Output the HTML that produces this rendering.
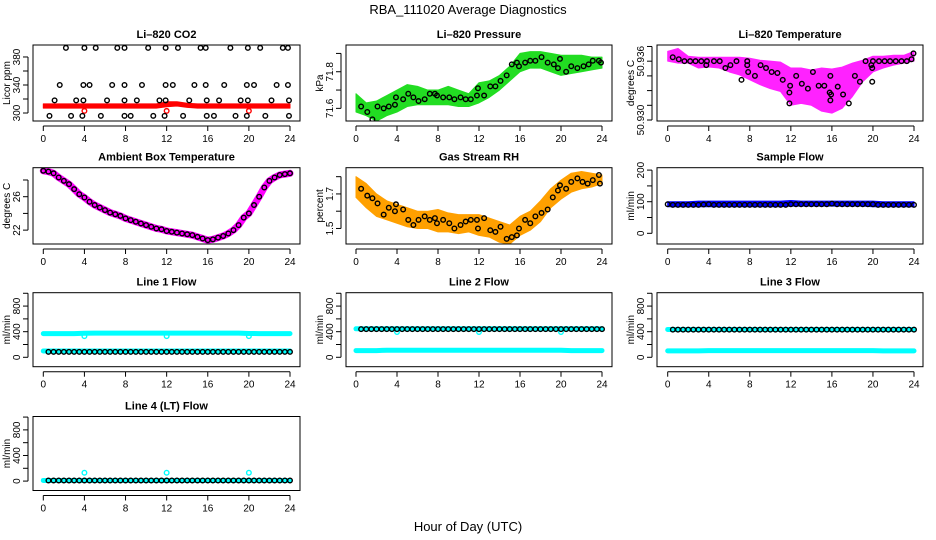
<!DOCTYPE html>
<html><head><meta charset="utf-8">
<style>
html,body{margin:0;padding:0;background:#fff;}
svg{display:block;font-family:"Liberation Sans",Arial,sans-serif;}
</style></head>
<body>
<svg id="chart" width="936" height="540" viewBox="0 0 936 540" xmlns="http://www.w3.org/2000/svg">
<rect width="936" height="540" fill="#fff"/>
<text x="468" y="14" font-size="13" text-anchor="middle">RBA_111020  Average Diagnostics</text>
<text x="468" y="531" font-size="13" text-anchor="middle">Hour of Day (UTC)</text>
</svg>
<script>
// ---------- data ----------
const xTicks = [0,4,8,12,16,20,24];
// CO2
const co2PtHours = [2.2,4.0,5.1,7.2,7.9,10.2,11.9,13.1,15.3,15.8,18.2,19.9,21.1,23.3,23.8,
 1.6,3.9,4.5,6.7,7.9,9.6,11.9,12.6,14.7,15.8,17.6,19.8,20.5,22.7,23.8,
 1.1,3.2,3.9,6.2,7.9,9.1,11.3,11.9,14.2,15.9,17.1,19.2,19.9,22.2,23.9,
 0.6,2.7,3.8,5.6,7.9,8.5,10.7,11.8,13.6,15.9,16.6,18.7,19.8,21.6,23.9];
const co2PtValues = [393,393,393,393,393,393,393,393,393,393,393,393,393,393,393,
 340,340,340,340,340,340,340,340,340,340,340,340,340,340,340,
 318,318,318,318,318,318,318,318,318,318,318,318,318,318,318,
 296,296,296,296,296,296,296,296,296,296,296,296,296,296,296];
const bandHours = [0,1,2,3,4,5,6,7,8,9,10,11,12,13,14,15,16,17,18,19,20,21,22,23,24];
const co2RedLo = [307,307,307,307,307,307,307,307,307,307,307,307,309,310,308,307,307,307,307,307,307,307,307,307,307];
const co2RedHi = [313,313,313,313,313,313,313,313,313,313,313,313,316,316,314,313,313,313,313,313,313,313,313,313,313];
const co2DipHours = [4,12,20];
const co2DipValues = [303,303,303];
// Pressure
const presHours = [0.5,1.1,1.6,2.1,2.7,3.2,3.8,3.9,4.6,5.1,5.6,6.1,6.7,7.2,7.7,7.9,8.5,9.1,9.6,10.2,10.7,11.2,11.8,11.9,12.5,13.1,13.6,14.1,14.7,15.2,15.7,15.9,16.5,17.0,17.5,18.1,18.7,19.3,19.7,19.9,20.5,21.0,21.6,22.2,22.7,23.1,23.7,23.9];
const presValues = [71.61,71.58,71.54,71.61,71.60,71.61,71.62,71.66,71.65,71.68,71.66,71.64,71.65,71.68,71.68,71.67,71.66,71.66,71.65,71.66,71.65,71.65,71.67,71.71,71.67,71.72,71.72,71.75,71.78,71.84,71.85,71.83,71.85,71.86,71.86,71.88,71.85,71.84,71.82,71.87,71.80,71.83,71.82,71.83,71.84,71.86,71.86,71.85];
const presLo = [71.58,71.56,71.53,71.56,71.58,71.61,71.62,71.62,71.62,71.62,71.61,71.61,71.63,71.66,71.70,71.75,71.80,71.82,71.82,71.80,71.78,71.79,71.80,71.81,71.82];
const presHi = [71.68,71.63,71.64,71.67,71.70,71.73,71.72,71.70,71.70,71.72,71.70,71.68,71.74,71.75,71.78,71.83,71.90,71.91,71.91,71.90,71.89,71.89,71.89,71.88,71.88];
// Li-820 temperature
const tempHours = [0.49,1.08,1.63,2.19,2.71,3.27,3.82,3.76,4.51,5.07,5.62,6.11,6.7,7.19,7.75,7.75,7.84,8.5,9.05,9.58,10.13,10.69,11.21,11.93,11.86,11.86,12.52,13.07,13.66,14.15,14.71,15.26,15.78,15.92,15.85,15.85,16.57,17.09,17.65,18.24,18.73,19.28,19.84,19.93,19.93,20.0,20.59,21.14,21.67,22.22,22.78,23.3,23.76,23.95];
const tempValues = [50.9364,50.9362,50.9360,50.9360,50.9360,50.9360,50.9360,50.9356,50.9360,50.9360,50.9353,50.9356,50.9360,50.9341,50.9360,50.9356,50.9349,50.9345,50.9356,50.9353,50.9349,50.9348,50.9341,50.9335,50.9328,50.9317,50.9345,50.9337,50.9332,50.9349,50.9335,50.9335,50.9328,50.9326,50.9345,50.9320,50.9334,50.9326,50.9317,50.9345,50.9339,50.9360,50.9356,50.9353,50.9339,50.9360,50.9360,50.9360,50.9360,50.9360,50.9360,50.9360,50.9362,50.9368];
const tempLo = [50.9360,50.9358,50.9358,50.9353,50.9354,50.9353,50.9349,50.9346,50.9341,50.9336,50.9332,50.9329,50.9315,50.9317,50.9315,50.9309,50.9307,50.9312,50.9324,50.9339,50.9349,50.9353,50.9356,50.9358,50.9360];
const tempHi = [50.9370,50.9373,50.9365,50.9364,50.9364,50.9364,50.9364,50.9364,50.9363,50.9361,50.9360,50.9359,50.9353,50.9353,50.9351,50.9353,50.9352,50.9354,50.9358,50.9361,50.9365,50.9365,50.9366,50.9366,50.9370];
// Ambient box temperature (half-hourly)
const halfHours = [0,0.5,1,1.5,2,2.5,3,3.5,4,4.5,5,5.5,6,6.5,7,7.5,8,8.5,9,9.5,10,10.5,11,11.5,12,12.5,13,13.5,14,14.5,15,15.5,16,16.5,17,17.5,18,18.5,19,19.5,20,20.5,21,21.5,22,22.5,23,23.5,24];
const ambValues = [29.1,29.0,28.8,28.3,27.9,27.5,26.9,26.3,25.9,25.4,25.0,24.7,24.4,24.1,23.9,23.7,23.4,23.2,23.0,22.8,22.6,22.4,22.2,22.1,21.9,21.8,21.7,21.6,21.5,21.4,21.2,21.0,20.8,20.9,21.1,21.3,21.6,22.0,22.6,23.5,24.0,25.0,26.0,27.1,27.9,28.3,28.6,28.7,28.8];
// Gas stream RH
const rhHours = [0.5,1.1,1.6,2.1,2.7,3.2,3.8,3.9,4.6,5.1,5.6,6.1,6.7,7.2,7.7,7.9,8.5,9.1,9.6,10.2,10.7,11.2,11.8,11.9,12.5,13.1,13.6,14.1,14.7,15.2,15.7,15.9,16.5,17.0,17.5,18.1,18.7,19.2,19.7,19.9,20.5,21.0,21.6,22.1,22.6,23.1,23.7,23.8];
const rhValues = [1.73,1.69,1.675,1.645,1.58,1.62,1.60,1.64,1.61,1.55,1.52,1.55,1.57,1.55,1.56,1.53,1.55,1.53,1.50,1.52,1.54,1.55,1.55,1.50,1.56,1.49,1.48,1.51,1.44,1.45,1.46,1.50,1.55,1.53,1.57,1.59,1.61,1.68,1.72,1.75,1.73,1.77,1.79,1.77,1.76,1.78,1.81,1.76];
const rhLo = [1.68,1.62,1.57,1.55,1.53,1.51,1.50,1.50,1.48,1.48,1.47,1.48,1.46,1.45,1.42,1.41,1.46,1.49,1.54,1.62,1.67,1.71,1.73,1.74,1.76];
const rhHi = [1.80,1.76,1.70,1.66,1.64,1.62,1.60,1.60,1.61,1.59,1.58,1.58,1.58,1.56,1.54,1.52,1.57,1.60,1.66,1.73,1.78,1.82,1.83,1.82,1.81];
// Sample flow
const sampleLo = [84,84,84,84,84,84,84,84,84,84,84,84,86,86,86,86,86,86,86,86,84,84,84,84,84];
const sampleHi = [100,100,100,102,102,102,102,102,102,102,102,102,104,102,102,102,102,102,102,102,102,100,100,100,100];
const sampleBlack = [92,90,90,90,90,90,90,91,92,90,90,90,90,90,90,90,90,90,90,90,90,90,90,90,92,92,92,92,92,92,92,92,94,92,92,92,92,92,92,92,92,90,90,90,90,90,90,90,90];
// Line flows
const line1CyanHi = [370,370,370,370,375,378,378,378,378,378,378,378,378,378,378,378,378,378,378,378,372,370,370,370,370];
const line1CyanLo = [98,98,98,98,98,98,98,98,98,98,98,98,98,98,98,98,98,98,98,98,98,98,98,98,98];
const line1Black = [85,85,85,85,85,85,85,85,85,85,85,85,85,85,85,85,85,85,85,85,85,85,85,85,85,85,85,85,85,85,85,85,85,85,85,85,85,85,85,85,85,85,85,85,85,85,85,85,85];
const line1DipHours = [4,12,20];
const line1DipValues = [330,330,330];
const line2CyanHi = [445,445,445,445,445,445,445,445,445,445,445,445,445,445,445,445,445,445,445,445,445,445,445,445,445];
const line2CyanLo = [105,105,105,110,110,110,110,110,110,110,110,110,110,110,110,110,110,110,110,110,110,105,105,105,105];
const line2Black = [440,440,440,440,440,440,440,440,440,440,440,440,440,440,440,440,440,440,440,440,440,440,440,440,440,440,440,440,440,440,440,440,440,440,440,440,440,440,440,440,440,440,440,440,440,440,440,440,440];
const line2DipValues = [395,395,395];
const line3CyanHi = [435,435,435,435,435,435,435,435,435,435,435,435,435,435,435,435,435,435,435,435,435,435,435,435,435];
const line3CyanLo = [100,100,100,100,105,105,105,105,105,105,105,105,105,105,105,105,105,105,105,105,105,100,100,100,100];
const line3Black = [432,432,432,432,432,432,432,432,432,432,432,432,432,432,432,432,432,432,432,432,432,432,432,432,432,432,432,432,432,432,432,432,432,432,432,432,432,432,432,432,432,432,432,432,432,432,432,432,432];
const line4Cyan = [10,10,10,10,10,10,10,10,10,10,10,10,10,10,10,10,10,10,10,10,10,10,10,10,10];
const line4Black = [10,10,10,10,10,10,10,10,10,10,10,10,10,10,10,10,10,10,10,10,10,10,10,10,10,10,10,10,10,10,10,10,10,10,10,10,10,10,10,10,10,10,10,10,10,10,10,10,10];
const line4SpikeValues = [130,130,130];

// ---------- drawing ----------
const NS = "http://www.w3.org/2000/svg";
const svg = document.getElementById('chart');
function mk(tag, parent){ const e=document.createElementNS(NS,tag); parent.appendChild(e); return e; }
const cols=[{L:33,R:300,x0:43.3,x24:290},{L:346,R:612,x0:356,x24:602},{L:657,R:923,x0:667.7,x24:914}];
const rows=[{T:45,B:121},{T:167.7,B:244},{T:292.7,B:366.7},{T:416.5,B:490.5}];

function panel(name,title,ylab,c,r,ymin,ymax,ticks,labels){
  const C=cols[c],R=rows[r];
  const g=mk('g',svg);
  
  
  const sx=h=>C.x0+(C.x24-C.x0)*h/24;
  const sy=v=>R.B-(v-ymin)/(ymax-ymin)*(R.B-R.T);
  const clipId='clip-'+name;
  const cp=mk('clipPath',g); cp.setAttribute('id',clipId);
  const cr=mk('rect',cp); cr.setAttribute('x',C.L);cr.setAttribute('y',R.T);cr.setAttribute('width',C.R-C.L);cr.setAttribute('height',R.B-R.T);
  const plot=mk('g',g); plot.setAttribute('clip-path','url(#'+clipId+')');
  
  
  const box=mk('rect',g);
  
  
  box.setAttribute('x',C.L);box.setAttribute('y',R.T);box.setAttribute('width',C.R-C.L);box.setAttribute('height',R.B-R.T);
  box.setAttribute('fill','none');box.setAttribute('stroke','#000');box.setAttribute('stroke-width','1');
  const t=mk('text',g);
  
  
  t.setAttribute('x',(C.L+C.R)/2);t.setAttribute('y',R.T-7);t.setAttribute('text-anchor','middle');
  t.setAttribute('font-size','11');t.setAttribute('font-weight','bold');t.textContent=title;
  const xa=mk('g',g);
  
  
  const xl=mk('line',xa);xl.setAttribute('x1',sx(0));xl.setAttribute('x2',sx(24));xl.setAttribute('y1',R.B+5);xl.setAttribute('y2',R.B+5);xl.setAttribute('stroke','#000');
  xTicks.forEach(h=>{
    const l=mk('line',xa);l.setAttribute('x1',sx(h));l.setAttribute('x2',sx(h));l.setAttribute('y1',R.B+5);l.setAttribute('y2',R.B+10);l.setAttribute('stroke','#000');
    const tx=mk('text',xa);
    
    
    tx.setAttribute('x',sx(h));tx.setAttribute('y',R.B+21);tx.setAttribute('font-size','10');tx.setAttribute('text-anchor','middle');tx.textContent=h;
  });
  const ya=mk('g',g);
  
  
  const yl=mk('line',ya);yl.setAttribute('x1',C.L-5);yl.setAttribute('x2',C.L-5);yl.setAttribute('y1',sy(ticks[0]));yl.setAttribute('y2',sy(ticks[ticks.length-1]));yl.setAttribute('stroke','#000');
  ticks.forEach(v=>{
    const l=mk('line',ya);l.setAttribute('x1',C.L-10);l.setAttribute('x2',C.L-5);l.setAttribute('y1',sy(v));l.setAttribute('y2',sy(v));l.setAttribute('stroke','#000');
  });
  labels.forEach(v=>{
    const tx=mk('text',ya);
    
    
    const yy=sy(parseFloat(v));
    tx.setAttribute('transform','translate('+(C.L-13)+','+yy+') rotate(-90)');
    tx.setAttribute('font-size','10');tx.setAttribute('text-anchor','middle');tx.textContent=v;
  });
  const yt=mk('text',g);
  
  
  yt.setAttribute('transform','translate('+(C.L-23)+','+((R.T+R.B)/2)+') rotate(-90)');
  yt.setAttribute('font-size','10');yt.setAttribute('text-anchor','middle');yt.textContent=ylab;
  return {plot,sx,sy};
}
function band(P,hours,lo,hi,color,name){
  let pts=hours.map((h,i)=>P.sx(h)+','+P.sy(hi[i]));
  for(let i=hours.length-1;i>=0;i--) pts.push(P.sx(hours[i])+','+P.sy(lo[i]));
  const p=mk('polygon',P.plot);
  
  
  p.setAttribute('points',pts.join(' '));p.setAttribute('fill',color);p.setAttribute('stroke',color);p.setAttribute('stroke-width','1');p.setAttribute('stroke-linejoin','round');
}
function line(P,hours,vals,color,w,name){
  const p=mk('polyline',P.plot);
  
  
  p.setAttribute('points',hours.map((h,i)=>P.sx(h)+','+P.sy(vals[i])).join(' '));
  p.setAttribute('fill','none');p.setAttribute('stroke',color);p.setAttribute('stroke-width',w);p.setAttribute('stroke-linecap','round');p.setAttribute('stroke-linejoin','round');
}
function pts(P,hours,vals,color,name){
  hours.forEach((h,i)=>{
    const c=mk('circle',P.plot);
    
    
    c.setAttribute('cx',P.sx(h));c.setAttribute('cy',P.sy(vals[i]));c.setAttribute('r','2.3');
    c.setAttribute('fill','none');c.setAttribute('stroke',color);c.setAttribute('stroke-width','1.4');
  });
}

let P=panel('co2-panel','Li\u2013820 CO2','Licor ppm',0,0,288.6,397.1,[300,320,340,360,380],['300','340','380']);
band(P,bandHours,co2RedLo,co2RedHi,'#ff0000','co2-red-band');
pts(P,co2DipHours,co2DipValues,'#ff0000','co2-red-point');
pts(P,co2PtHours,co2PtValues,'#000','co2-point');
P=panel('pressure-panel','Li\u2013820 Pressure','kPa',1,0,71.531,71.946,[71.6,71.7,71.8,71.9],['71.6','71.8']);
band(P,bandHours,presLo,presHi,'#22dd22','pressure-green-band');
pts(P,presHours,presValues,'#000','pressure-point');
P=panel('temperature-panel','Li\u2013820 Temperature','degrees C',2,0,50.9299,50.93765,[50.930,50.9315,50.933,50.9345,50.936,50.9375],['50.930','50.936']);
band(P,bandHours,tempLo,tempHi,'#ff22ff','temperature-magenta-band');
pts(P,tempHours,tempValues,'#000','temperature-point');
P=panel('ambient-panel','Ambient Box Temperature','degrees C',0,1,20.34,29.47,[22,24,26,28],['22','26']);
line(P,halfHours,ambValues,'#ff00ff',7,'ambient-magenta-line');
pts(P,halfHours,ambValues,'#000','ambient-point');
P=panel('rh-panel','Gas Stream RH','percent',1,1,1.410,1.852,[1.5,1.6,1.7,1.8],['1.5','1.7']);
band(P,bandHours,rhLo,rhHi,'#ffa000','rh-orange-band');
pts(P,rhHours,rhValues,'#000','rh-point');
P=panel('sample-flow-panel','Sample Flow','ml/min',2,1,-33.8,207.6,[0,50,100,150,200],['0','100','200']);
band(P,bandHours,sampleLo,sampleHi,'#0000ff','sample-blue-band');
pts(P,halfHours,sampleBlack,'#000','sample-point');
const fT=[0,200,400,600,800,1000], fL=['0','400','800'];
const fmin=-147, fmax=1009;
P=panel('line1-panel','Line 1 Flow','ml/min',0,2,fmin,fmax,fT,fL);
line(P,bandHours,line1CyanHi,'#00ffff',5,'line1-cyan-upper');
line(P,bandHours,line1CyanLo,'#00ffff',5,'line1-cyan-lower');
pts(P,line1DipHours,line1DipValues,'#00ffff','line1-cyan-dip');
pts(P,halfHours.slice(1),line1Black.slice(1),'#000','line1-point');
P=panel('line2-panel','Line 2 Flow','ml/min',1,2,fmin,fmax,fT,fL);
line(P,bandHours,line2CyanHi,'#00ffff',5,'line2-cyan-upper');
line(P,bandHours,line2CyanLo,'#00ffff',5,'line2-cyan-lower');
pts(P,line1DipHours,line2DipValues,'#00ffff','line2-cyan-dip');
pts(P,halfHours.slice(1),line2Black.slice(1),'#000','line2-point');
P=panel('line3-panel','Line 3 Flow','ml/min',2,2,fmin,fmax,fT,fL);
line(P,bandHours,line3CyanHi,'#00ffff',5,'line3-cyan-upper');
line(P,bandHours,line3CyanLo,'#00ffff',5,'line3-cyan-lower');
pts(P,halfHours.slice(1),line3Black.slice(1),'#000','line3-point');
P=panel('line4-panel','Line 4 (LT) Flow','ml/min',0,3,fmin,fmax,fT,fL);
line(P,bandHours,line4Cyan,'#00ffff',5,'line4-cyan');
pts(P,line1DipHours,line4SpikeValues,'#00ffff','line4-cyan-spike');
pts(P,halfHours.slice(1),line4Black.slice(1),'#000','line4-point');
</script>
</body></html>
